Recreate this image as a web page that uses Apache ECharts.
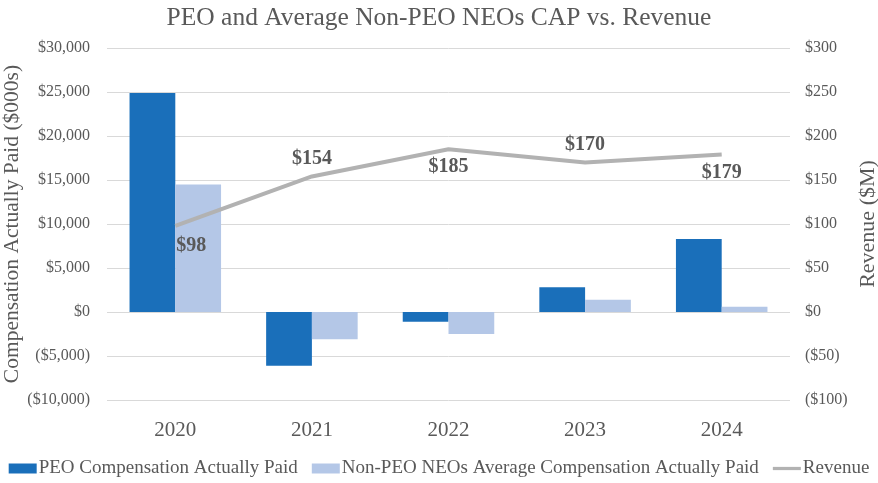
<!DOCTYPE html>
<html><head><meta charset="utf-8">
<script src="https://cdn.jsdelivr.net/npm/echarts@6/dist/echarts.min.js"></script>
<style>html,body{margin:0;padding:0;background:#fff}#c{width:878px;height:483px}</style>
</head><body><div id="c"></div>
<script>
const years = ['2020','2021','2022','2023','2024'];
const peoCAP = [24900, -6100, -1100, 2800, 8300];
const neoCAP = [14500, -3100, -2500, 1400, 600];
const revenue = [98, 154, 185, 170, 179];
const revLabelPos = ['bottom','top','bottom','top','bottom'];

const font = '"Liberation Serif","Times New Roman",serif';
const grey = '#595959';
const chart = echarts.init(document.getElementById('c'));
const fmtK = v => v < 0 ? '($' + Math.abs(v).toLocaleString('en-US') + ')' : '$' + v.toLocaleString('en-US');
chart.setOption({
  animation: false,
  textStyle: {fontFamily: font},
  title: {text: 'PEO and Average Non-PEO NEOs CAP vs. Revenue', left: 'center', top: 0,
    textStyle: {fontFamily: font, fontSize: 25.5, fontWeight: 'normal', color: grey}},
  grid: {left: 107, right: 88, top: 48, bottom: 83, outerBoundsMode: 'none', containLabel: false},
  legend: {bottom: 0, left: 'center', itemGap: 14, itemWidth: 28, itemHeight: 10,
    textStyle: {fontFamily: font, fontSize: 19, color: grey, padding: [0,0,0,-3]},
    data: [{name: 'PEO Compensation Actually Paid', icon: 'rect'},
           {name: 'Non-PEO NEOs Average Compensation Actually Paid', icon: 'rect'},
           {name: 'Revenue', icon: 'path://M0,4L26,4L26,7L0,7Z'}]},
  xAxis: {type: 'category', data: years,
    axisLine: {show: false}, axisTick: {show: false},
    axisLabel: {fontFamily: font, fontSize: 21, color: grey, margin: 20}},
  yAxis: [
    {type: 'value', min: -10000, max: 30000, interval: 5000,
     name: 'Compensation Actually Paid ($000s)', nameLocation: 'middle', nameGap: 84, nameMoveOverlap: false,
     nameTextStyle: {fontFamily: font, fontSize: 21.5, color: grey},
     axisLabel: {fontFamily: font, fontSize: 16, color: grey, formatter: fmtK, margin: 17},
     splitLine: {lineStyle: {color: '#d9d9d9', width: 1}}},
    {type: 'value', min: -100, max: 300, interval: 50,
     name: 'Revenue ($M)', nameLocation: 'middle', nameGap: 67, nameRotate: 90, nameMoveOverlap: false,
     nameTextStyle: {fontFamily: font, fontSize: 22, color: grey},
     axisLabel: {fontFamily: font, fontSize: 16, color: grey, formatter: v => fmtK(v), margin: 15},
     splitLine: {show: false}}
  ],
  series: [
    {name: 'PEO Compensation Actually Paid', type: 'bar', data: peoCAP, barGap: '0%', barCategoryGap: '33%',
     itemStyle: {color: '#1a6fba'}},
    {name: 'Non-PEO NEOs Average Compensation Actually Paid', type: 'bar', data: neoCAP,
     itemStyle: {color: '#b4c7e7'}},
    {name: 'Revenue', type: 'line', yAxisIndex: 1, symbol: 'circle', symbolSize: 0, showSymbol: true,
     lineStyle: {color: '#b2b2b2', width: 4}, itemStyle: {color: '#b2b2b2'},
     data: revenue.map((v, i) => ({value: v, label: {show: true, position: revLabelPos[i], distance: 8,
       offset: i === 0 ? [16, 2] : [0, 0],
       formatter: '$' + v, fontFamily: font, fontSize: 20, fontWeight: 'bold', color: grey}}))}
  ]
});
</script></body></html>
